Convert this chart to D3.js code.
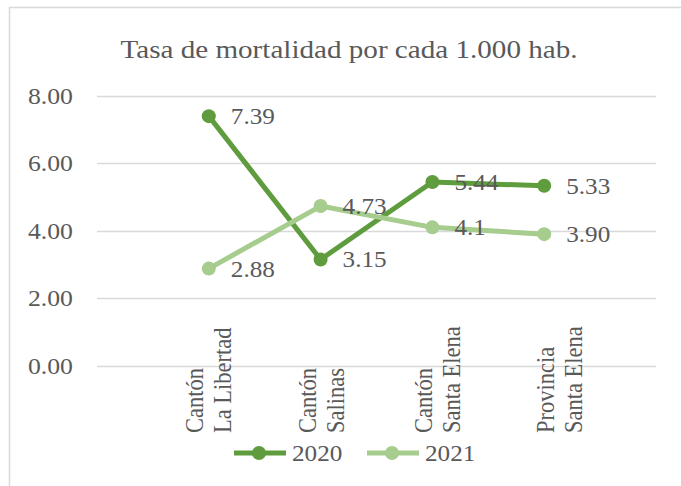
<!DOCTYPE html>
<html>
<head>
<meta charset="utf-8">
<script src="https://cdn.jsdelivr.net/npm/d3@7"></script>
<style>
  body { margin: 0; background: #fff; }
</style>
</head>
<body>
<script>
var width = 681,
    height = 486;

// data
var categories = ['Cantón|La Libertad', 'Cantón|Salinas', 'Cantón|Santa Elena', 'Provincia|Santa Elena'];
var values2020 = [7.39, 3.15, 5.44, 5.33];
var values2021 = [2.88, 4.73, 4.10, 3.90];
var labels2020 = ['7.39', '3.15', '5.44', '5.33'];
var labels2021 = ['2.88', '4.73', '4.1', '3.90'];
var yTicks = [0, 2, 4, 6, 8];
var title = 'Tasa de mortalidad por cada 1.000 hab.';

var series = [
  { name: '2020', values: values2020, labels: labels2020, color: '#5e9c3d' },
  { name: '2021', values: values2021, labels: labels2021, color: '#a6cc8e' }
];

// the source picture is a bit wider than tall, text is stretched sideways
var sx = 1.12;

var svg = d3.select('body')
  .append('svg')
  .attr('width', width)
  .attr('height', height)
  .attr('font-family', 'Liberation Serif')
  .attr('fill', '#595959');

// chart area border (cut off at right / bottom)
svg.append('path')
  .attr('d', 'M9.5,' + height + 'V7.5H' + width)
  .attr('fill', 'none')
  .attr('stroke', '#d9d9d9')
  .attr('stroke-width', 1.5);

svg.append('text')
  .attr('transform', 'translate(349,58) scale(' + sx + ',1)')
  .attr('text-anchor', 'middle')
  .attr('font-size', 26)
  .text(title);

var x = d3.scalePoint()
  .domain(categories)
  .range([97, 656])
  .padding(1);

var y = d3.scaleLinear()
  .domain([0, 8])
  .range([366, 95.5]);

// gridlines
svg.append('g')
  .selectAll('line')
  .data(yTicks)
  .enter()
  .append('line')
  .attr('x1', 97)
  .attr('x2', 656)
  .attr('y1', d => Math.round(y(d)) + 0.5)
  .attr('y2', d => Math.round(y(d)) + 0.5)
  .attr('stroke', '#d9d9d9')
  .attr('stroke-width', 1.5);

// y labels
svg.append('g')
  .selectAll('text')
  .data(yTicks)
  .enter()
  .append('text')
  .attr('transform', d => 'translate(73,' + y(d) + ') scale(' + sx + ',1)')
  .attr('dy', '0.35em')
  .attr('text-anchor', 'end')
  .attr('font-size', 23)
  .text(d => d.toFixed(2));

// category labels, rotated; excel doesn't center them evenly
var catShift = [-15, -13.5, -9, 1];
var cat = svg.append('g')
  .selectAll('g')
  .data(categories)
  .enter()
  .append('g');

cat.each(function(d, k) {
  var parts = d.split('|');
  var g = d3.select(this);
  parts.forEach(function(p, i) {
    g.append('text')
      .attr('transform', 'translate(' + (x(d) + catShift[k] + i * 28) + ',433) scale(' + sx + ',1) rotate(-90)')
      .attr('dy', '0.35em')
      .attr('font-size', 22.5)
      .text(p);
  });
});

var line = d3.line()
  .x((d, i) => x(categories[i]))
  .y(d => y(d));

series.forEach(function(s) {
  var g = svg.append('g');
  g.append('path')
    .attr('d', line(s.values))
    .attr('fill', 'none')
    .attr('stroke', s.color)
    .attr('stroke-width', 5)
    .attr('stroke-linejoin', 'round');
  g.selectAll('circle')
    .data(s.values)
    .enter()
    .append('circle')
    .attr('cx', (d, i) => x(categories[i]))
    .attr('cy', d => y(d))
    .attr('r', 7)
    .attr('fill', s.color);
  g.selectAll('text')
    .data(s.values)
    .enter()
    .append('text')
    .attr('transform', (d, i) => 'translate(' + (x(categories[i]) + 22) + ',' + y(d) + ') scale(' + sx + ',1)')
    .attr('dy', '0.35em')
    .attr('font-size', 22.5)
    .text((d, i) => s.labels[i]);
});

// legend
var legend = svg.append('g')
  .selectAll('g')
  .data(series)
  .enter()
  .append('g')
  .attr('transform', (d, i) => 'translate(' + (234 + i * 133) + ',453)');

legend.append('line')
  .attr('x1', 0)
  .attr('x2', 52)
  .attr('stroke', d => d.color)
  .attr('stroke-width', 5);
legend.append('circle')
  .attr('cx', 25)
  .attr('r', 7)
  .attr('fill', d => d.color);
legend.append('text')
  .attr('transform', 'translate(58,0) scale(' + sx + ',1)')
  .attr('dy', '0.35em')
  .attr('font-size', 22.5)
  .text(d => d.name);
</script>
</body>
</html>
